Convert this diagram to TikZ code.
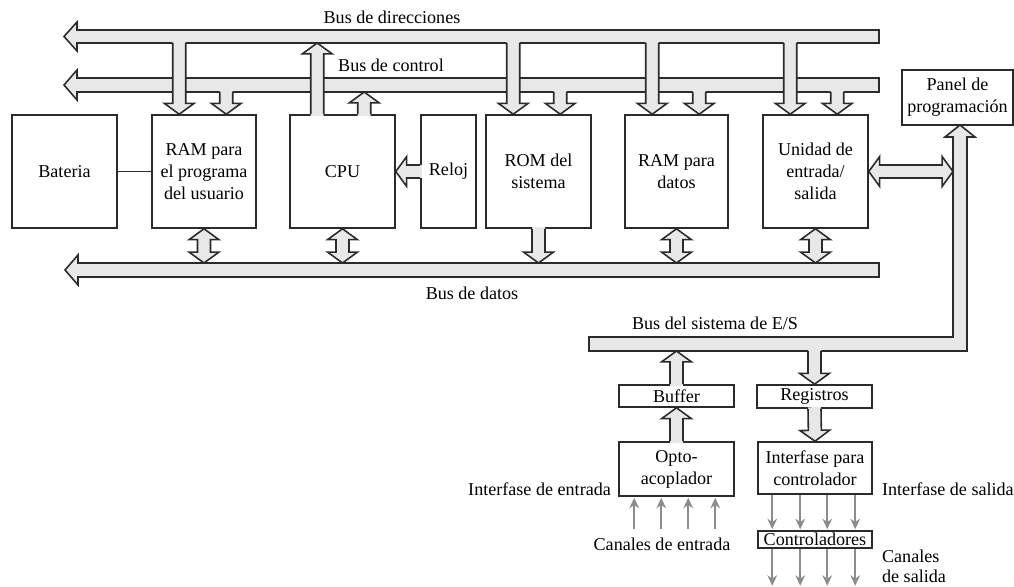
\documentclass[tikz,border=0pt]{standalone}
\usepackage{fontspec}
\setmainfont{Liberation Serif}
\usepackage{tikz}
\usetikzlibrary{arrows.meta,calc}
\definecolor{busFill}{HTML}{E8E8E8}
\definecolor{busLine}{HTML}{2B2B2B}
\definecolor{sigGray}{HTML}{8C8C8C}

\newcommand\shaftW{3.7pt}
\newcommand\headW{8.5pt}
\newcommand\headL{6.2pt}
\newcommand\tailX{0.9pt}

% fat bus arrow, tail #1, tip #2
\newcommand\fatArrow[2]{%
  \path ($(#2)!\headL!(#1)$) coordinate (fH) ($(#1)!-\tailX!(#2)$) coordinate (fT);
  \fill[busFill] ($(fT)!\shaftW!90:(#2)$) -- ($(fH)!\shaftW!-90:(#1)$) -- ($(fH)!\headW!-90:(#1)$) -- (#2)
    -- ($(fH)!\headW!90:(#1)$) -- ($(fH)!\shaftW!90:(#1)$) -- ($(fT)!\shaftW!-90:(#2)$) -- cycle;
  \draw[fatLine] ($(#1)!\shaftW!90:(#2)$) -- ($(fH)!\shaftW!-90:(#1)$) -- ($(fH)!\headW!-90:(#1)$) -- (#2)
    -- ($(fH)!\headW!90:(#1)$) -- ($(fH)!\shaftW!90:(#1)$) -- ($(#1)!\shaftW!-90:(#2)$);
}
% fat arrow with a head at both ends
\newcommand\fatDouble[2]{%
  \path ($(#2)!\headL!(#1)$) coordinate (fH) ($(#1)!\headL!(#2)$) coordinate (fT);
  \filldraw[fatLine, fill=busFill] (#1) -- ($(fT)!\headW!90:(#2)$) -- ($(fT)!\shaftW!90:(#2)$)
    -- ($(fH)!\shaftW!-90:(#1)$) -- ($(fH)!\headW!-90:(#1)$) -- (#2) -- ($(fH)!\headW!90:(#1)$)
    -- ($(fH)!\shaftW!90:(#1)$) -- ($(fT)!\shaftW!-90:(#2)$) -- ($(fT)!\headW!-90:(#2)$) -- cycle;
}

\begin{document}
\begin{tikzpicture}[
    x=0.02cm, y=-0.02cm,
    fatLine/.style={draw=busLine, line width=0.9pt, line join=miter},
    box/.style={draw=busLine, line width=0.9pt, fill=white, align=center, inner sep=0pt,
        minimum width=2.1cm, minimum height=2.26cm, font=\fontsize{10.3}{12.5}\selectfont},
    lbl/.style={inner sep=1pt, font=\fontsize{10.3}{12.5}\selectfont},
    sig/.style={draw=sigGray, line width=1pt, -{Stealth[length=6pt,width=5.5pt]}}
]
\useasboundingbox (0,0) rectangle (1014,587);

\filldraw[fatLine, fill=busFill] (879,30) -- (77,30) -- (77,22) -- (64,36.5) -- (77,51) -- (77,43) -- (879,43) -- cycle;
\filldraw[fatLine, fill=busFill] (879,78) -- (77,78) -- (77,70) -- (64,85) -- (77,100) -- (77,92) -- (879,92) -- cycle;
\filldraw[fatLine, fill=busFill] (879,263) -- (78,263) -- (78,255) -- (65,270) -- (78,285) -- (78,277) -- (879,277) -- cycle;
\filldraw[fatLine, fill=busFill] (589,337) -- (953,337) -- (953,137) -- (945,137) -- (960,125) -- (975,137)
    -- (967,137) -- (967,351) -- (589,351) -- cycle;
\coordinate (adrS) at (0,43);
\coordinate (ctlS) at (0,92);
\coordinate (datN) at (0,263);
\coordinate (iosS) at (0,351);
\coordinate (vertW) at (953,0);

\node[lbl] (adrLbl) at (392,17) {Bus de direcciones};
\node[lbl] (ctlLbl) at (391,65) {Bus de control};
\node[lbl] (datLbl) at (472,293) {Bus de datos};
\node[lbl] (iosLbl) at (715,323) {Bus del sistema de E/S};

\node[box] (bat) at (64.5,171.5) {Bateria};
\node[box, minimum width=2.08cm] (ramProg) at (204,171.5) {RAM para\\el programa\\del usuario};
\node[box] (cpu) at (342.5,171.5) {CPU};
\node[box, minimum width=1.1cm] (reloj) at (448.5,171.5) {Reloj};
\node[box] (romSys) at (538.5,171.5) {ROM del\\sistema};
\node[box, minimum width=2.06cm] (ramDat) at (676.5,171.5) {RAM para\\datos};
\node[box] (ioUnit) at (815.5,171.5) {Unidad de\\entrada/\\salida};
\node[box, minimum width=2.22cm, minimum height=1.1cm] (panel) at (957.5,97.5) {Panel de\\programación};
\node[box, minimum width=2.3cm, minimum height=0.44cm] (buffer) at (676.5,396) {Buffer};
\node[box, minimum width=2.3cm, minimum height=0.46cm] (regs) at (814.5,396.5) {Registros};
\node[box, minimum width=2.3cm, minimum height=1.08cm] (opto) at (676.5,469) {Opto-\\acoplador};
\node[box, minimum width=2.28cm, minimum height=1.04cm] (drvIf) at (815,468) {Interfase para\\controlador};
\node[box, minimum width=2.28cm, minimum height=0.34cm] (drivers) at (815,539.5) {Controladores};

\node[lbl, anchor=east] (inLbl) at (613,489) {Interfase de entrada};
\node[lbl] (chInLbl) at (662,544) {Canales de entrada};
\node[lbl, anchor=west] (outLbl) at (880,489) {Interfase de salida};
\node[lbl, anchor=west, align=left, font=\fontsize{10.3}{11.5}\selectfont] (chOutLbl) at (880,566) {Canales\\de salida};

\draw[busLine, line width=0.7pt] (bat.east) -- (ramProg.west);

\foreach \b in {ramProg,romSys,ramDat,ioUnit} {
  \path ($(\b.north west)+(28,0)$) coordinate (\b-a) ($(\b.north west)+(75,0)$) coordinate (\b-c);
  \fatArrow{\b-a |- adrS}{\b-a}
  \fatArrow{\b-c |- ctlS}{\b-c}
}
\path ($(cpu.north west)+(28,0)$) coordinate (cpu-a) ($(cpu.north west)+(75,0)$) coordinate (cpu-c);
\fatArrow{cpu-a}{cpu-a |- adrS}
\fatArrow{cpu-c}{cpu-c |- ctlS}

\foreach \b in {ramProg,cpu,ramDat,ioUnit}
  \fatDouble{\b.south}{\b.south |- datN};
\fatArrow{romSys.south}{romSys.south |- datN}
\fatArrow{reloj.west}{cpu.east}
\fatDouble{ioUnit.east}{ioUnit.east -| vertW}

\fatArrow{buffer.north}{buffer.north |- iosS}
\fatArrow{regs.north |- iosS}{regs.north}
\fatArrow{opto.north}{buffer.south}
\fatArrow{regs.south}{drvIf.north}

\foreach \d in {16,43,70,97}
  \draw[sig] ($(opto.south west)+(\d,32)$) -- ($(opto.south west)+(\d,1)$);
\foreach \d in {15,43,70,98} {
  \draw[sig] ($(drvIf.south west)+(\d,0)$) -- ($(drivers.north west)+(\d,-1)$);
  \draw[sig] ($(drivers.south west)+(\d,0)$) -- ++(0,37);
}
\end{tikzpicture}
\end{document}
